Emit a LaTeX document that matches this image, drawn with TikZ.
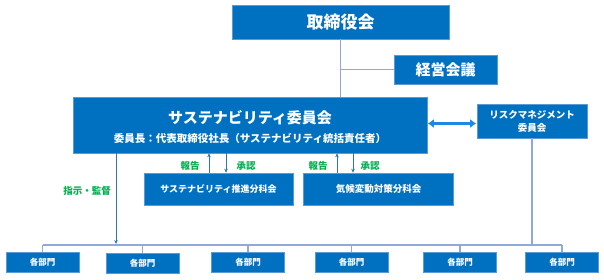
\documentclass[tikz,border=0pt]{standalone}
\usepackage{fontspec}
\setmainfont{Noto Sans CJK JP}
\usetikzlibrary{arrows.meta,calc}
\definecolor{boxfill}{HTML}{0070C0}
\definecolor{boxline}{HTML}{5B9BD5}
\definecolor{conn}{HTML}{8EA9DB}
\definecolor{arr}{HTML}{2E75B6}
\definecolor{dbl}{HTML}{1E88E5}
\definecolor{lblgreen}{HTML}{00B050}
\tikzset{
  orgbox/.style={draw=boxline, line width=0.6pt, fill=boxfill, text=white, font=\bfseries, inner sep=0pt, align=center},
  connline/.style={draw=conn, line width=1.1pt},
  smallarr/.style={draw=arr, line width=0.8pt, -{Stealth[length=4pt,width=3.5pt]}},
  greenlbl/.style={text=lblgreen, font=\bfseries\fontsize{9.5}{11}\selectfont, inner sep=0pt},
  deptbox/.style={orgbox, minimum width=73pt, minimum height=20pt, font=\bfseries\fontsize{8.5}{10}\selectfont}
}
\begin{document}
\begin{tikzpicture}[x=1pt,y=-1pt]
\useasboundingbox (0,0) rectangle (604,279);
% boxes
\node[orgbox, minimum width=217pt, minimum height=34pt, font=\bfseries\fontsize{17}{20}\selectfont] (board) at (340.5,22) {取締役会};
\node[orgbox, minimum width=103pt, minimum height=29pt, font=\bfseries\fontsize{15}{18}\selectfont] (keiei) at (445.5,69.5) {経営会議};
\node[orgbox, minimum width=354pt, minimum height=56pt] (sus) at (250,125) {};
\node[text=white, font=\bfseries\fontsize{15}{18}\selectfont, inner sep=0pt] (sustitle) at (250,118) {サステナビリティ委員会};
\node[text=white, font=\bfseries\fontsize{10.5}{12}\selectfont, inner sep=0pt] (sussub) at (250,138) {委員長：代表取締役社長（サステナビリティ統括責任者）};
\node[orgbox, minimum width=110pt, minimum height=34pt, font=\bfseries\fontsize{9.5}{13}\selectfont] (risk) at (532,121) {リスクマネジメント\\委員会};
\node[orgbox, minimum width=149pt, minimum height=32pt, font=\bfseries\fontsize{9}{11}\selectfont] (sub1) at (218.5,189) {サステナビリティ推進分科会};
\node[orgbox, minimum width=150pt, minimum height=32pt, font=\bfseries\fontsize{9.5}{11}\selectfont] (sub2) at (378.5,189) {気候変動対策分科会};
% departments
\node[deptbox] (d1) at (42.5,262) {各部門};
\node[deptbox] (d2) at (142.5,263) {各部門};
\node[deptbox] (d3) at (248,262) {各部門};
\node[deptbox] (d4) at (351.5,262) {各部門};
\node[deptbox] (d5) at (460,262) {各部門};
\node[deptbox] (d6) at (562,262) {各部門};
% bus
\coordinate (busL) at (42.5,245);
\coordinate (busR) at (562,245);
\draw[connline] (busL) -- (busR);
\foreach \d in {d1,d2,d3,d4,d5,d6} \draw[connline] (\d.north) -- (\d.north |- busL);
% board connectors
\draw[connline] (board.south) -- (board.south |- sus.north);
\draw[connline] (board.south |- keiei.west) -- (keiei.west);
% risk to bus
\draw[connline] (risk.south) -- (risk.south |- busR);
% instruction arrow
\coordinate (ins) at (116,0);
\draw[smallarr] (ins |- sus.south) -- ($(ins |- busL)+(0,-1)$);
\node[greenlbl] (inslbl) at (87,191) {指示・監督};
% double arrow
\draw[draw=dbl, line width=2.6pt, {Latex[length=6pt,width=9pt]}-{Latex[length=6pt,width=9pt]}] ($(sus.east |- risk.west)+(0.5,2.5)$) -- ($(risk.west)+(-0.5,2.5)$);
% report / approve arrows
\coordinate (u1) at (209,0);
\coordinate (a1) at (226,0);
\coordinate (u2) at (337,0);
\coordinate (a2) at (353,0);
\draw[smallarr] (u1 |- sub1.north) -- (u1 |- sus.south);
\draw[smallarr] (a1 |- sus.south) -- (a1 |- sub1.north);
\draw[smallarr] (u2 |- sub2.north) -- (u2 |- sus.south);
\draw[smallarr] (a2 |- sus.south) -- (a2 |- sub2.north);
\node[greenlbl] (r1) at (190,166) {報告};
\node[greenlbl] (s1) at (246,166) {承認};
\node[greenlbl] (r2) at (318,166) {報告};
\node[greenlbl] (s2) at (370,166) {承認};
\end{tikzpicture}
\end{document}
